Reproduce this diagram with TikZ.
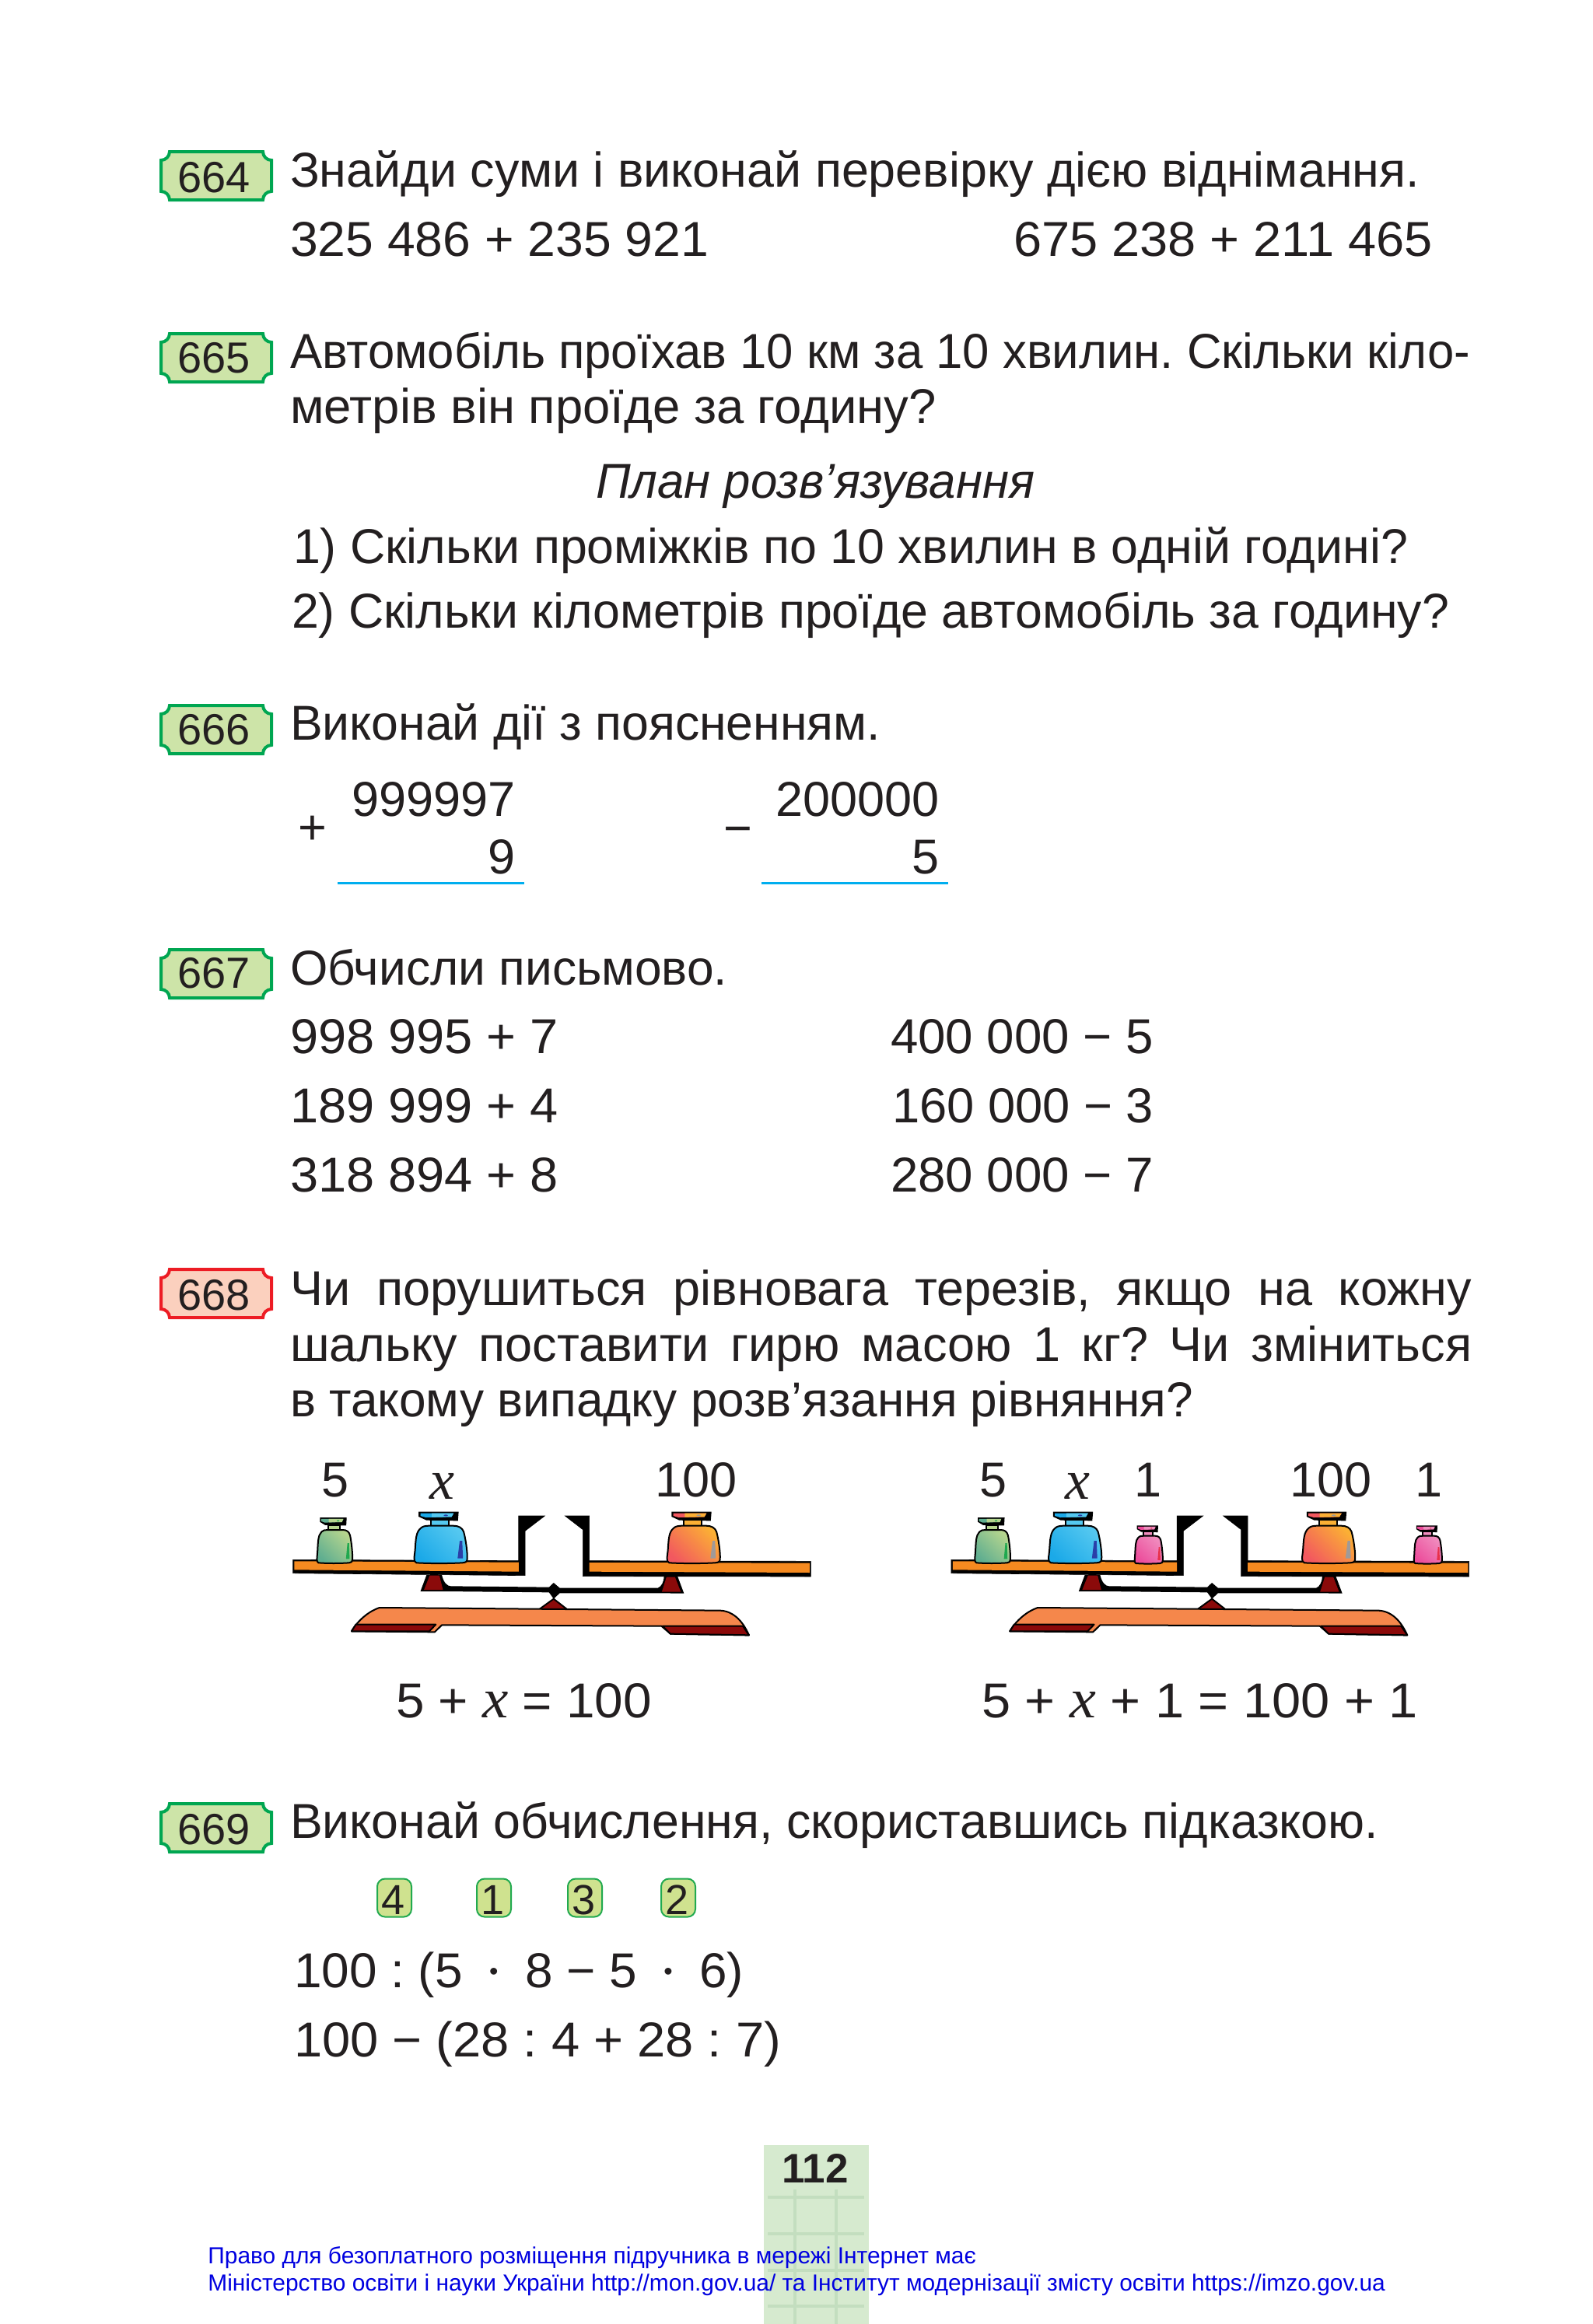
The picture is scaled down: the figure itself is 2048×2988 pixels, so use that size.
\documentclass[tikz,border=0pt]{standalone}
\usepackage{fontspec}
\usepackage{graphicx}
\setmainfont{Liberation Sans}
\newfontfamily\xfont{Liberation Serif}
\newcommand{\xv}{{\xfont\itshape\fontsize{36pt}{36pt}\selectfont x}}
\newcommand{\mdot}{\hspace{17pt}\raisebox{5pt}{\fontsize{16pt}{16pt}\selectfont •}\hspace{17pt}}
\newlength{\fitw}
\definecolor{ink}{HTML}{231F20}
\definecolor{badgeG}{HTML}{00A651}
\definecolor{fillG}{HTML}{CDE4A8}
\definecolor{badgeR}{HTML}{ED1C24}
\definecolor{fillR}{HTML}{FBD0BE}
\definecolor{stepG}{HTML}{22AA50}
\definecolor{stepF}{HTML}{CFE28F}
\definecolor{rule}{HTML}{00AEEF}
\definecolor{pan}{HTML}{F58A20}
\definecolor{basec}{HTML}{F5874B}
\definecolor{dred}{HTML}{8B0A0A}
\definecolor{band}{HTML}{D6EACF}
\definecolor{bandl}{HTML}{C3DEBF}
\definecolor{link}{HTML}{0000E0}
\definecolor{grA}{HTML}{5FAE90}
\definecolor{grB}{HTML}{B6D58E}
\definecolor{grM}{HTML}{1FA84F}
\definecolor{blA}{HTML}{1BA9E8}
\definecolor{blB}{HTML}{55C8F0}
\definecolor{blM}{HTML}{2A3FA8}
\definecolor{orA}{HTML}{F2585F}
\definecolor{orB}{HTML}{FBB034}
\definecolor{orM}{HTML}{A09A98}
\definecolor{piA}{HTML}{EC4C9B}
\definecolor{piB}{HTML}{F08CBE}
\definecolor{piM}{HTML}{E8304A}
\tikzset{
  txt/.style={anchor=base west,inner sep=0pt,outer sep=0pt,text=ink,font=\fontsize{31.5pt}{36pt}\selectfont},
  txtr/.style={txt,anchor=base east},
  txtc/.style={txt,anchor=base},
  badgetext/.style={anchor=base,inner sep=0pt,text=ink,font=\fontsize{28pt}{32pt}\selectfont},
  stepbox/.style={draw=stepG,line width=1pt,fill=stepF,rounded corners=5pt,inner sep=0pt,minimum width=22pt,minimum height=24.5pt},
  steptext/.style={anchor=base,inner sep=0pt,text=ink,font=\fontsize{27pt}{30pt}\selectfont},
  linkt/.style={anchor=base west,inner sep=0pt,text=link,font=\fontsize{14.95pt}{17pt}\selectfont},
  rulel/.style={draw=rule,line width=1.5pt},
  outl/.style={draw=black,line width=1pt,line join=round},
}
% fitted line: name, x0, x1, baseline, text
\newcommand{\fitl}[5]{\setlength{\fitw}{\dimexpr #3pt/2-#2pt/2\relax}%
  \node[txt] (#1) at (#2,#4) {\resizebox{\fitw}{\height}{#5}};}
% justified line
\newcommand{\justl}[5]{\setlength{\fitw}{\dimexpr #3pt/2-#2pt/2\relax}%
  \node[txt] (#1) at (#2,#4) {\makebox[\fitw][s]{#5}};}
\newcommand{\badge}[6]{%
  \begin{scope}[shift={(207,#2)}]
    \draw[draw=#4,fill=#5,line width=2pt,line join=miter]
     (11,0) -- (131,0) .. controls (131,6) and (136,11) .. (142,11)
     -- (142,51) .. controls (136,51) and (131,56) .. (131,62)
     -- (11,62) .. controls (11,56) and (6,51) .. (0,51)
     -- (0,11) .. controls (6,11) and (11,6) .. (11,0) -- cycle;
    \node[badgetext] (#1) at (68,#6) {#3};
  \end{scope}}
\newcommand{\wgt}[7]{% cx, base, xs, ys, colA, colB, mark
  \begin{scope}[shift={(#1,#2)},xscale=#3,yscale=#4]
    \fill[black] (-62,-197) -- (50,-197) -- (48,-162) -- (-40,-164) -- (-62,-178) -- cycle;
    \fill[#5] (-57,-191) -- (36,-191) -- (30,-177) -- (-42,-175) -- (-57,-181) -- cycle;
    \fill[#6] (-25,-191) -- (36,-191) -- (30,-177) -- (-25,-176) -- cycle;
    \fill[#7] (14,-183) circle[x radius=6,y radius=3];
    \draw[outl,fill=#6] (-27,-165) rectangle (23,-140);
    \path[outl,bottom color=#5,top color=#6,shading angle=-45]
      (-68,0) .. controls (-78,-6) and (-74,-20) .. (-72,-50)
      .. controls (-70,-90) and (-70,-120) .. (-55,-135)
      .. controls (-50,-142) and (-40,-143) .. (-30,-143) -- (35,-143)
      .. controls (50,-143) and (60,-135) .. (64,-120)
      .. controls (70,-90) and (75,-40) .. (74,-15)
      .. controls (74,-5) and (70,-1) .. (60,0) .. controls (20,3) and (-30,3) .. (-68,0) -- cycle;
    \fill[#7] (53,-85) -- (60,-85) -- (62,-17) -- (47,-17) -- cycle;
  \end{scope}}
\newcommand{\scalebody}{%
  \draw[black,fill=black,line width=.3pt] (58,466) -- (690,470) -- (690,297) -- (763,297) -- (708,355) -- (708,527) -- (58,518) -- cycle;
  \fill[pan] (62,472) -- (690,476) -- (690,512) -- (62,505) -- cycle;
  \draw[black,fill=black,line width=.3pt] (1508,472) -- (888,470) -- (888,297) -- (820,297) -- (870,350) -- (870,530) -- (1508,531) -- cycle;
  \fill[pan] (888,477) -- (1505,479) -- (1505,516) -- (888,512) -- cycle;
  \fill[black] (432,525) -- (475,525) .. controls (480,555) and (490,568) .. (500,568) -- (775,572) -- (788,555) -- (805,575) -- (1080,575) .. controls (1090,570) and (1097,550) .. (1097,530) -- (1135,530) -- (1153,596) -- (1080,595) -- (805,595) -- (788,617) -- (775,592) -- (480,588) -- (415,588) -- cycle;
  \fill[dred] (441,527) -- (468,527) -- (478,582) -- (425,582) -- cycle;
  \fill[dred] (1104,533) -- (1128,533) -- (1144,590) -- (1091,590) -- cycle;
  \draw[outl,fill=dred] (788,617) -- (830,662) -- (747,658) -- cycle;
  \draw[outl,fill=basec] (222,742) .. controls (240,700) and (270,665) .. (300,651) -- (1255,662) .. controls (1295,665) and (1320,710) .. (1335,757) -- (1115,752) -- (1090,722) -- (475,718) -- (455,745) -- cycle;
  \draw[outl,fill=dred] (234,716) -- (458,716) -- (440,742) -- (222,742) -- cycle;
  \draw[outl,fill=dred] (1093,722) -- (1318,722) -- (1335,757) -- (1115,752) -- cycle;
}
\begin{document}
\frenchspacing
\begin{tikzpicture}[x=0.5pt,y=-0.5pt]
\useasboundingbox (0,0) rectangle (2048,2988);
\fill[white] (0,0) rectangle (2048,2988);

% page band
\fill[band] (982,2758) rectangle (1117,2988);
\foreach \yy in {2825,2872,2919,2965} \draw[bandl,line width=1.7pt] (987,\yy) -- (1111,\yy);
\foreach \xx in {1022,1075} \draw[bandl,line width=1.7pt] (\xx,2815) -- (\xx,2988);
\node[anchor=base,inner sep=0pt,text=ink,font=\fontsize{26.5pt}{30pt}\selectfont\bfseries] (pagenum) at (1048,2806) {112};

% badges
\badge{b664}{195}{664}{badgeG}{fillG}{52}
\badge{b665}{429}{665}{badgeG}{fillG}{50}
\badge{b666}{907}{666}{badgeG}{fillG}{50}
\badge{b667}{1221}{667}{badgeG}{fillG}{49}
\badge{b668}{1632}{668}{badgeR}{fillR}{52}
\badge{b669}{2319}{669}{badgeG}{fillG}{52}

% 664
\fitl{a1}{373}{1825}{240}{Знайди суми і виконай перевірку дією віднімання.}
\fitl{a2}{373}{911}{329}{325 486 + 235 921}
\fitl{a3}{1303}{1842}{329}{675 238 + 211 465}
% 665
\fitl{c1}{373}{1890}{473}{Автомобіль проїхав 10 км за 10 хвилин. Скільки кіло-}
\fitl{c2}{373}{1204}{544}{метрів він проїде за годину?}
\fitl{c3}{766}{1330}{640}{\itshape План розв’язування}
\fitl{c4}{377}{1810}{724}{1) Скільки проміжків по 10 хвилин в одній годині?}
\fitl{c5}{375}{1863}{807}{2) Скільки кілометрів проїде автомобіль за годину?}
% 666
\fitl{d1}{373}{1132}{951}{Виконай дії з поясненням.}
\node[txtr] (d2) at (663,1049) {999997};
\node[txtr] (d3) at (663,1123) {9};
\node[txtc] (d4) at (402,1085) {+};
\node[txtr] (d5) at (1208,1049) {200000};
\node[txtr] (d6) at (1208,1123) {5};
\node[txtc] (d7) at (949,1086) {−};
\coordinate (r1a) at (434,1135); \coordinate (r1b) at (674,1135);
\coordinate (r2a) at (979,1135); \coordinate (r2b) at (1219,1135);
\draw[rulel] (r1a) -- (r1b);
\draw[rulel] (r2a) -- (r2b);
% 667
\fitl{e1}{373}{935}{1266}{Обчисли письмово.}
\fitl{e2}{373}{718}{1354}{998 995 + 7}
\fitl{e3}{373}{718}{1443}{189 999 + 4}
\fitl{e4}{373}{718}{1532}{318 894 + 8}
\fitl{e5}{1145}{1483}{1354}{400 000 − 5}
\fitl{e6}{1147}{1483}{1443}{160 000 − 3}
\fitl{e7}{1145}{1483}{1532}{280 000 − 7}
% 668
\justl{f1}{373}{1892}{1678}{Чи порушиться рівновага терезів, якщо на кожну}
\justl{f2}{373}{1892}{1750}{шальку поставити гирю масою 1 кг? Чи зміниться}
\fitl{f3}{373}{1534}{1821}{в такому випадку розв’язання рівняння?}

% scale labels
\node[txtc] (g1) at (431,1924) {5};
\node[txtc] (g2) at (568,1927) {\xv};
\node[txtc] (g3) at (895,1924) {100};
\node[txtc] (h1) at (1277,1924) {5};
\node[txtc] (h2) at (1385,1927) {\xv};
\node[txtc] (h3) at (1476,1924) {1};
\node[txtc] (h4) at (1711,1924) {100};
\node[txtc] (h5) at (1837,1924) {1};

% left scale
\begin{scope}[shift={(350,1850)},xscale=0.4591,yscale=0.3333]
  \scalebody
  \wgt{175}{478}{.67}{.887}{grA}{grB}{grM}
  \wgt{472}{478}{1}{1}{blA}{blB}{blM}
  \wgt{1180}{478}{1}{1}{orA}{orB}{orM}
\end{scope}
% right scale
\begin{scope}[shift={(1196.3,1850)},xscale=0.4591,yscale=0.3333]
  \scalebody
  \wgt{174}{478}{.67}{.887}{grA}{grB}{grM}
  \wgt{405}{478}{1}{1}{blA}{blB}{blM}
  \wgt{611}{480}{.53}{.74}{piA}{piB}{piM}
  \wgt{1115}{478}{1}{1}{orA}{orB}{orM}
  \wgt{1393}{480}{.53}{.74}{piA}{piB}{piM}
\end{scope}

% equations
\fitl{i1}{509}{838}{2208}{5 + \xv{} = 100}
\fitl{i2}{1262}{1823}{2208}{5 + \xv{} + 1 = 100 + 1}

% 669
\fitl{j1}{373}{1772}{2363}{Виконай обчислення, скориставшись підказкою.}
\node[stepbox] (s1) at (507,2440) {};
\node[stepbox] (s2) at (635,2440) {};
\node[stepbox] (s3) at (752,2440) {};
\node[stepbox] (s4) at (872,2440) {};
\node[steptext] (s1t) at (506,2461) {4};
\node[steptext] (s2t) at (634,2461) {1};
\node[steptext] (s3t) at (751,2461) {3};
\node[steptext] (s4t) at (871,2461) {2};
\fitl{j2}{378}{956}{2555}{100 : (5\mdot 8 − 5\mdot 6)}
\fitl{j3}{378}{1004}{2644}{100 − (28 : 4 + 28 : 7)}

% footer
\node[linkt] (k1) at (267,2910) {Право для безоплатного розміщення підручника в мережі Інтернет має};
\node[linkt] (k2) at (267,2945) {Міністерство освіти і науки України http://mon.gov.ua/ та Інститут модернізації змісту освіти https://imzo.gov.ua};
\end{tikzpicture}
\end{document}
